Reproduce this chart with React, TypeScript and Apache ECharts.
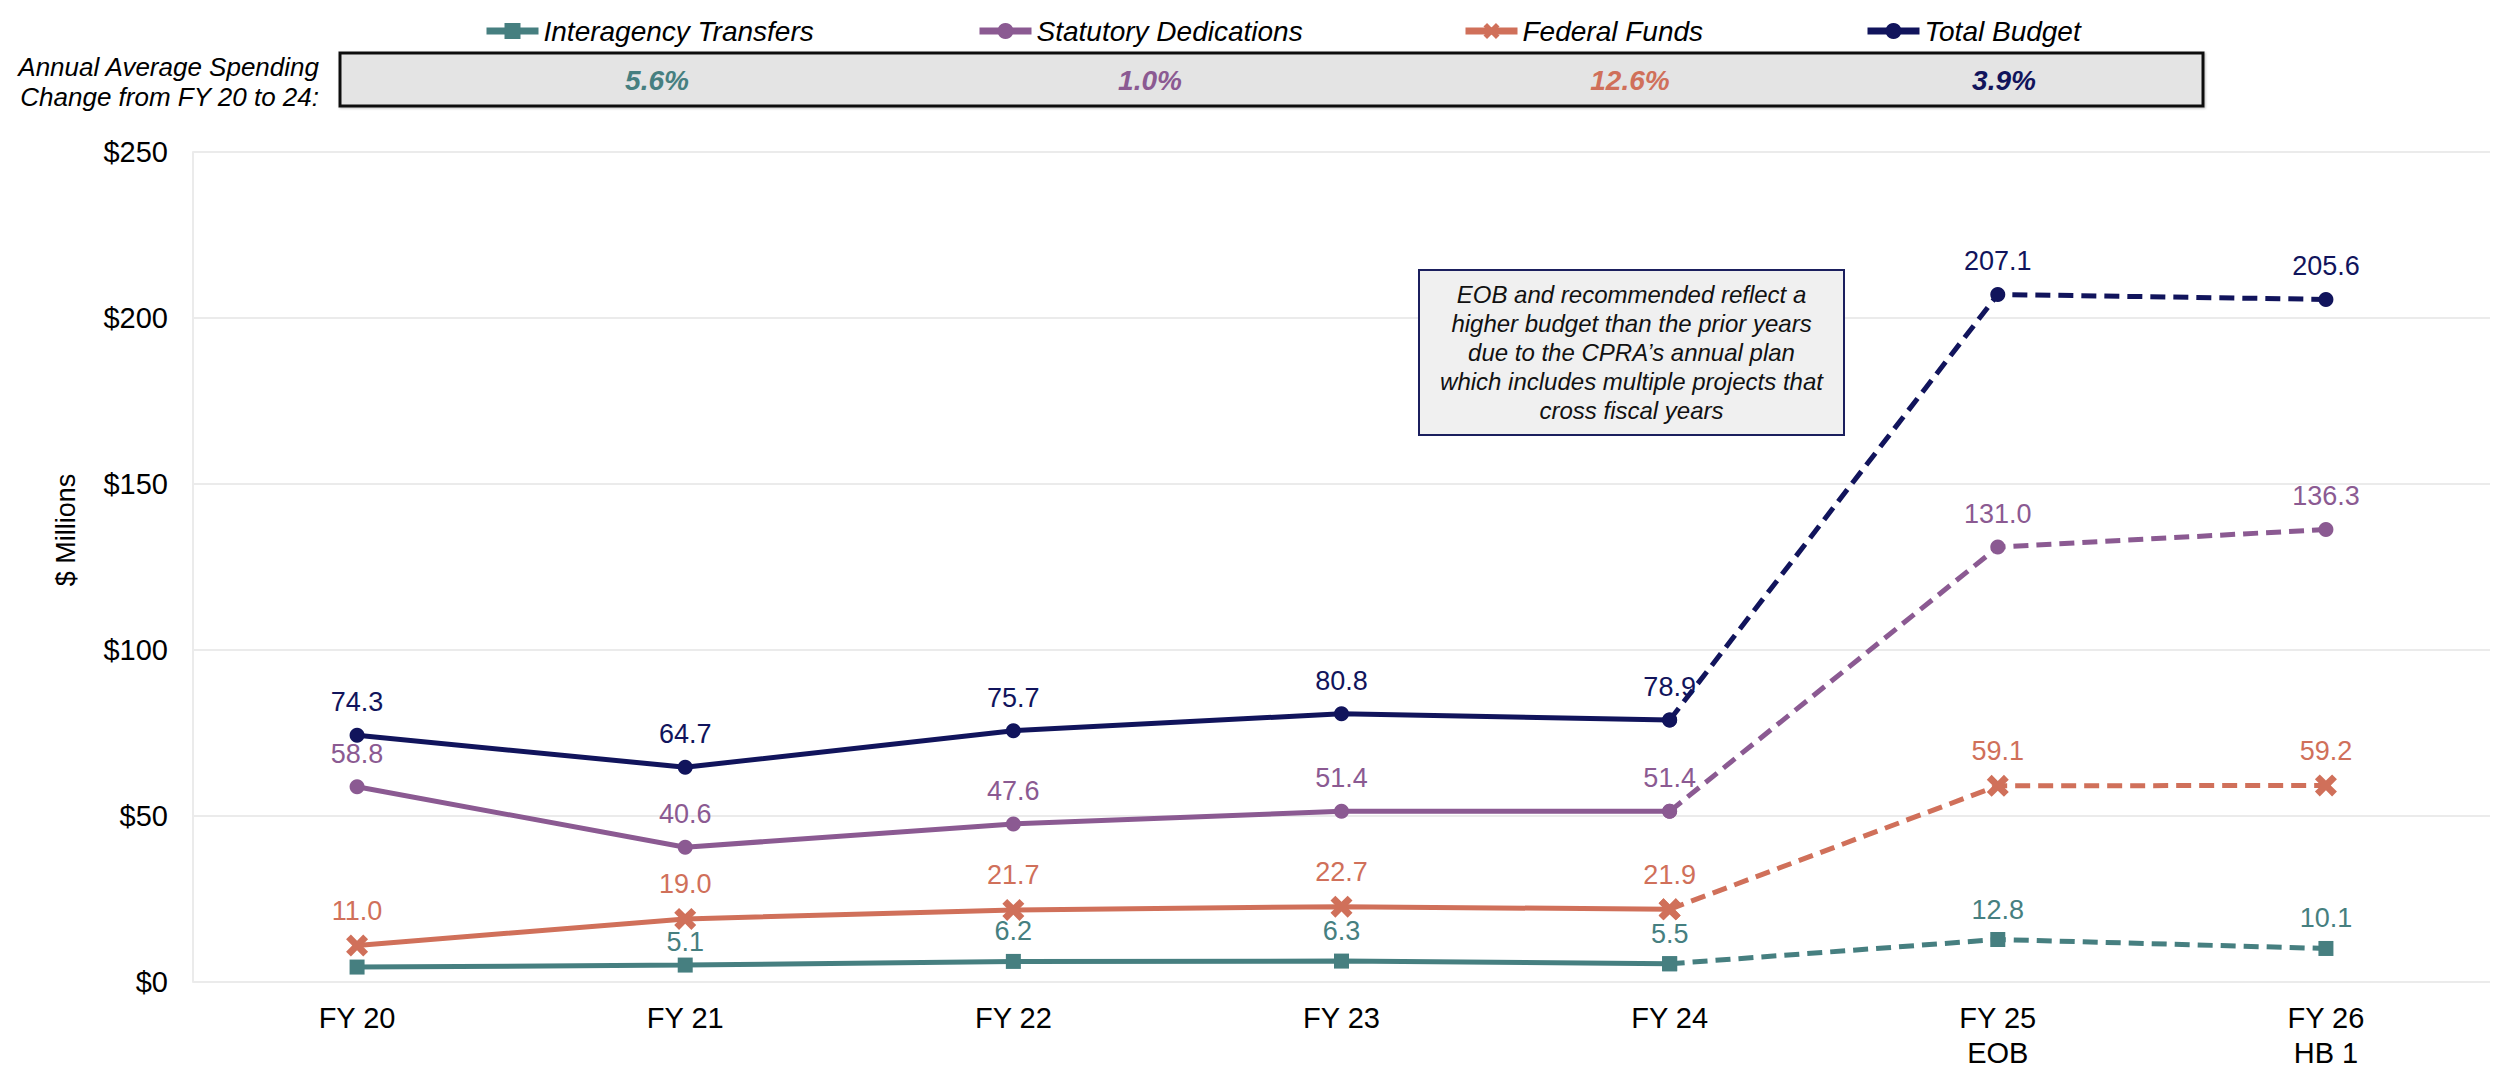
import React, { useEffect, useRef } from "react";
import * as echarts from "echarts";

// Fiscal years shown on the category axis
const categories = ["FY 20", "FY 21", "FY 22", "FY 23", "FY 24", "FY 25\nEOB", "FY 26\nHB 1"];

// Budget by means of finance, $ millions
const interagencyTransfers = [4.5, 5.1, 6.2, 6.3, 5.5, 12.8, 10.1];
const statutoryDedications = [58.8, 40.6, 47.6, 51.4, 51.4, 131.0, 136.3];
const federalFunds = [11.0, 19.0, 21.7, 22.7, 21.9, 59.1, 59.2];
const totalBudget = [74.3, 64.7, 75.7, 80.8, 78.9, 207.1, 205.6];

// Annual average spending change, FY 20 to FY 24
const avgChange = ["5.6%", "1.0%", "12.6%", "3.9%"];

// Last actual year; later years are drawn dashed
const lastActualIndex = 4;

const yMin = 0;
const yMax = 250;
const yInterval = 50;

const FONT = '"Liberation Sans", Arial, sans-serif';

const seriesDefs = [
  {
    name: "Interagency Transfers",
    values: interagencyTransfers,
    color: "#467F80",
    symbol: "rect",
    symbolSize: 15,
    labelDistance: 9,
    hiddenLabels: [0],
    // labels tucked closer to their point so they clear the line above
    tightLabels: [1],
  },
  {
    name: "Statutory Dedications",
    values: statutoryDedications,
    color: "#8B5A92",
    symbol: "circle",
    symbolSize: 15,
    labelDistance: 12,
    hiddenLabels: [] as number[],
    tightLabels: [] as number[],
  },
  {
    name: "Federal Funds",
    values: federalFunds,
    color: "#D0705A",
    symbol: "path://M2.2,0 L5,2.8 L7.8,0 L10,2.2 L7.2,5 L10,7.8 L7.8,10 L5,7.2 L2.2,10 L0,7.8 L2.8,5 L0,2.2 Z",
    symbolSize: 22,
    labelDistance: 10,
    hiddenLabels: [] as number[],
    tightLabels: [] as number[],
  },
  {
    name: "Total Budget",
    values: totalBudget,
    color: "#11145C",
    symbol: "circle",
    symbolSize: 15,
    labelDistance: 12,
    hiddenLabels: [] as number[],
    tightLabels: [] as number[],
  },
];

const legendLeft = [478, 971, 1457, 1859];
const avgCenters = [657, 1150, 1630, 2004];

function buildOption() {
  const series: any[] = [];
  seriesDefs.forEach((d, si) => {
    const label = {
      show: true,
      position: "top",
      distance: d.labelDistance,
      color: d.color,
      fontSize: 27,
      fontFamily: FONT,
      formatter: (p: any) => Number(p.value).toFixed(1),
    };
    const pointLabel = (i: number, show: boolean) =>
      d.tightLabels.includes(i) ? { show, distance: 2 } : { show };
    // Actual years: solid line
    series.push({
      type: "line",
      name: d.name,
      z: 2 + si,
      symbol: d.symbol,
      symbolSize: d.symbolSize,
      showAllSymbol: true,
      itemStyle: { color: d.color },
      lineStyle: { color: d.color, width: 5 },
      label,
      data: d.values.map((v, i) =>
        i <= lastActualIndex
          ? { value: v, label: pointLabel(i, !d.hiddenLabels.includes(i)) }
          : "-"
      ),
    });
    // Projected years: dashed line
    series.push({
      type: "line",
      name: d.name,
      z: 2 + si,
      symbol: d.symbol,
      symbolSize: d.symbolSize,
      showAllSymbol: true,
      itemStyle: { color: d.color },
      lineStyle: { color: d.color, width: 5, type: [15, 8] },
      label,
      data: d.values.map((v, i) =>
        i >= lastActualIndex
          ? { value: v, label: pointLabel(i, i > lastActualIndex) }
          : "-"
      ),
    });
  });

  const legend = seriesDefs.map((d, i) => ({
    data: [d.name],
    left: legendLeft[i],
    top: 12,
    itemWidth: 52,
    itemHeight: 20,
    itemGap: 0,
    lineStyle: { width: 7 },
    textStyle: { fontSize: 28, fontStyle: "italic", fontFamily: FONT, color: "#000" },
  }));

  const graphic: any[] = [
    {
      type: "text",
      x: 319,
      y: 67,
      style: {
        text: "Annual Average Spending",
        font: `italic 26px ${FONT}`,
        fill: "#000",
        textAlign: "right",
        textVerticalAlign: "middle",
      },
    },
    {
      type: "text",
      x: 319,
      y: 97,
      style: {
        text: "Change from FY 20 to 24:",
        font: `italic 26px ${FONT}`,
        fill: "#000",
        textAlign: "right",
        textVerticalAlign: "middle",
      },
    },
    {
      type: "rect",
      shape: { x: 340, y: 53, width: 1863, height: 53 },
      style: {
        fill: "#E4E4E4",
        stroke: "#111",
        lineWidth: 3,
        shadowColor: "rgba(0,0,0,0.25)",
        shadowBlur: 2,
        shadowOffsetX: 1,
        shadowOffsetY: 1,
      },
    },
    ...avgChange.map((t, i) => ({
      type: "text",
      x: avgCenters[i],
      y: 80,
      style: {
        text: t,
        font: `italic bold 28px ${FONT}`,
        fill: seriesDefs[i].color,
        textAlign: "center",
        textVerticalAlign: "middle",
      },
    })),
    {
      type: "rect",
      z: 10,
      shape: { x: 1419, y: 270, width: 425, height: 165 },
      style: { fill: "#F0F0F0", stroke: "#1B1F5E", lineWidth: 2 },
    },
    {
      type: "text",
      z: 11,
      x: 1631.5,
      y: 352.5,
      style: {
        text:
          "EOB and recommended reflect a\nhigher budget than the prior years\ndue to the CPRA\u2019s annual plan\nwhich includes multiple projects that\ncross fiscal years",
        font: `italic 24px ${FONT}`,
        lineHeight: 29,
        fill: "#111",
        textAlign: "center",
        textVerticalAlign: "middle",
      },
    },
    // Axis title for the value axis
    {
      type: "text",
      x: 66,
      y: 530,
      rotation: Math.PI / 2,
      style: {
        text: "$ Millions",
        font: `27px ${FONT}`,
        fill: "#000",
        textAlign: "center",
        textVerticalAlign: "middle",
      },
    },
  ];

  return {
    animation: false,
    backgroundColor: "#fff",
    grid: { left: 193, right: 16, top: 152, bottom: 88, containLabel: false },
    legend,
    xAxis: {
      type: "category",
      data: categories,
      boundaryGap: true,
      axisLine: { show: false },
      axisTick: { show: false },
      axisLabel: {
        color: "#000",
        fontSize: 29,
        fontFamily: FONT,
        lineHeight: 35,
        margin: 18,
        interval: 0,
      },
    },
    yAxis: {
      type: "value",
      min: yMin,
      max: yMax,
      interval: yInterval,
      axisLine: { show: true, lineStyle: { color: "#EBEBEB", width: 2 } },
      axisTick: { show: false },
      splitLine: { lineStyle: { color: "#EBEBEB", width: 2 } },
      axisLabel: {
        color: "#000",
        fontSize: 29,
        fontFamily: FONT,
        margin: 25,
        formatter: (v: number) => "$" + v,
      },
    },
    graphic,
    series,
  };
}

export default function App() {
  const ref = useRef<HTMLDivElement>(null);
  useEffect(() => {
    document.body.style.margin = "0";
    if (!ref.current) return;
    const chart = echarts.init(ref.current, undefined, { renderer: "svg" });
    chart.setOption(buildOption() as any);
    return () => chart.dispose();
  }, []);
  return <div ref={ref} style={{ width: 2506, height: 1070 }} />;
}
